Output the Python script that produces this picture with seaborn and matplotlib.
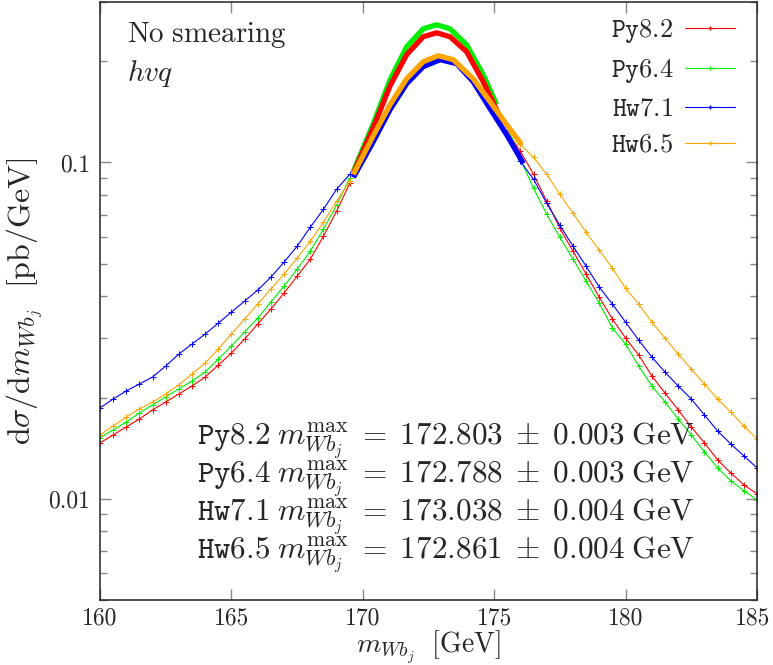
import matplotlib
matplotlib.use("Agg")
import matplotlib.pyplot as plt
import matplotlib.transforms as mtransforms
import seaborn as sns
import pandas as pd
from matplotlib.lines import Line2D
from matplotlib.ticker import FixedLocator, FixedFormatter, NullFormatter

# ---------------- data ----------------
generators = ["Py8.2", "Py6.4", "Hw7.1", "Hw6.5"]
colors = ["#ff0000", "#00ee00", "#0000ff", "#ffa500"]
peak_values = ["172.803", "172.788", "173.038", "172.861"]
peak_errors = ["0.003", "0.003", "0.004", "0.004"]

mass_left = [160.0, 160.5, 161.0, 161.5, 162.0, 162.5, 163.0, 163.5, 164.0, 164.5,
             165.0, 165.5, 166.0, 166.5, 167.0, 167.5, 168.0, 168.5, 169.0, 169.5]
py82_left = [0.01466, 0.01548, 0.01635, 0.01727, 0.01837, 0.01940, 0.02049, 0.02164, 0.02301, 0.02497,
             0.02711, 0.02983, 0.03306, 0.03662, 0.04087, 0.04590, 0.05155, 0.06031, 0.07154, 0.08663]
py64_left = [0.01517, 0.01602, 0.01692, 0.01799, 0.01901, 0.02008, 0.02121, 0.02239, 0.02381, 0.02602,
             0.02844, 0.03131, 0.03444, 0.03842, 0.04285, 0.04814, 0.05444, 0.06327, 0.07455, 0.08965]
hw71_left = [0.01862, 0.01980, 0.02092, 0.02194, 0.02301, 0.02481, 0.02693, 0.02884, 0.03088, 0.03329,
             0.03588, 0.03869, 0.04171, 0.04558, 0.05050, 0.05633, 0.06414, 0.07254, 0.08317, 0.09213]
hw65_left = [0.01548, 0.01646, 0.01751, 0.01849, 0.01940, 0.02049, 0.02180, 0.02349, 0.02533, 0.02787,
             0.03088, 0.03420, 0.03789, 0.04200, 0.04653, 0.05190, 0.05829, 0.06637, 0.07662, 0.08781]

mass_right_py = [175.5, 176.0, 176.5, 177.0, 177.5, 178.0, 178.5, 179.0, 179.5, 180.0,
                 180.5, 181.0, 181.5, 182.0, 182.5, 183.0, 183.5, 184.0, 184.5, 185.0]
py82_right = [0.1236, 0.1078, 0.09213, 0.07662, 0.06371, 0.05444, 0.04653, 0.03975, 0.03420, 0.03003,
              0.02675, 0.02317, 0.02063, 0.01837, 0.01635, 0.01466, 0.01305, 0.01194, 0.01100, 0.01034]
py64_right = [0.1279, 0.1021, 0.08372, 0.07012, 0.05990, 0.05155, 0.04435, 0.03815, 0.03216, 0.02884,
              0.02481, 0.02164, 0.01940, 0.01727, 0.01548, 0.01378, 0.01236, 0.01131, 0.01056, 0.00993]
mass_right_hw = [176.0, 176.5, 177.0, 177.5, 178.0, 178.5, 179.0, 179.5, 180.0,
                 180.5, 181.0, 181.5, 182.0, 182.5, 183.0, 183.5, 184.0, 184.5, 185.0]
hw71_right = [0.1007, 0.08905, 0.07557, 0.06503, 0.05633, 0.04914, 0.04257, 0.03789, 0.03351,
              0.02962, 0.02638, 0.02381, 0.02164, 0.01980, 0.01775, 0.01591, 0.01456, 0.01341, 0.01236]
hw65_right = [0.1131, 0.1035, 0.09213, 0.08035, 0.07060, 0.06199, 0.05481, 0.04848, 0.04228,
              0.03789, 0.03351, 0.03003, 0.02693, 0.02430, 0.02194, 0.01980, 0.01812, 0.01646, 0.01507]

# fitted curves around the peak
py82_fit_m = [169.64, 170.40, 171.04, 171.67, 172.30, 172.81, 173.32, 173.95, 174.58, 175.34]
py82_fit_v = [0.0928, 0.1270, 0.1692, 0.2092, 0.2365, 0.2430, 0.2365, 0.2135, 0.1739, 0.1305]
py64_fit_m = [169.64, 170.40, 171.04, 171.67, 172.30, 172.81, 173.32, 173.95, 174.58, 175.09]
py64_fit_v = [0.0940, 0.1305, 0.1763, 0.2209, 0.2497, 0.2567, 0.2497, 0.2239, 0.1824, 0.1486]
hw71_fit_m = [169.64, 170.40, 171.04, 171.67, 172.30, 172.94, 173.57, 174.20, 174.84, 175.47, 176.11]
hw71_fit_v = [0.0903, 0.1154, 0.1437, 0.1715, 0.1927, 0.2021, 0.1967, 0.1739, 0.1446, 0.1211, 0.0993]
hw65_fit_m = [169.64, 170.40, 171.04, 171.67, 172.30, 172.87, 173.44, 174.20, 174.84, 175.47, 176.04]
hw65_fit_v = [0.0921, 0.1202, 0.1486, 0.1775, 0.1994, 0.2077, 0.2021, 0.1775, 0.1517, 0.1297, 0.1131]

x_ticks = [160, 165, 170, 175, 180, 185]
y_ticks = [0.01, 0.1]
y_tick_labels = ["0.01", "0.1"]

# ---------------- plotting ----------------
sns.set_style("ticks")
plt.rcParams["font.family"] = ["cmr10", "DejaVu Serif"]
plt.rcParams["mathtext.fontset"] = "cm"
plt.rcParams["axes.formatter.use_mathtext"] = True

fig = plt.figure(figsize=(7.73, 6.65), dpi=100)
ax = fig.add_axes([100 / 773, 65 / 665, 657 / 773, 598 / 665])
ax.set_yscale("log")

data_left = [py82_left, py64_left, hw71_left, hw65_left]
data_right = [(mass_right_py, py82_right), (mass_right_py, py64_right),
              (mass_right_hw, hw71_right), (mass_right_hw, hw65_right)]
fits = [(py82_fit_m, py82_fit_v), (py64_fit_m, py64_fit_v),
        (hw71_fit_m, hw71_fit_v), (hw65_fit_m, hw65_fit_v)]

for name, col, yl, (mr, yr) in zip(generators, colors, data_left, data_right):
    for xs, ys in ((mass_left, yl), (mr, yr)):
        df = pd.DataFrame({"m": xs, "v": ys})
        sns.lineplot(data=df, x="m", y="v", ax=ax, color=col, lw=0.8,
                     marker="+", markersize=5, markeredgewidth=0.7,
                     markeredgecolor=col, markerfacecolor=col,
                     sort=False, legend=False, zorder=2)

# thick fit curves: draw order green, red, blue, orange
for idx in [1, 0, 2, 3]:
    fm, fv = fits[idx]
    df = pd.DataFrame({"m": fm, "v": fv})
    sns.lineplot(data=df, x="m", y="v", ax=ax, color=colors[idx], lw=3.8,
                 sort=False, legend=False, zorder=3,
                 solid_capstyle="butt", solid_joinstyle="round")

ax.set_xlim(160, 185)
ax.set_ylim(0.005, 0.3)

ax.xaxis.set_major_locator(FixedLocator(x_ticks))
ax.set_xticklabels([str(t) for t in x_ticks])
ax.yaxis.set_major_locator(FixedLocator(y_ticks))
ax.yaxis.set_major_formatter(FixedFormatter(y_tick_labels))
minor = [k * 10.0 ** e for e in (-3, -2, -1) for k in range(2, 10)]
ax.yaxis.set_minor_locator(FixedLocator(minor))
ax.yaxis.set_minor_formatter(NullFormatter())
ax.xaxis.set_minor_locator(FixedLocator([]))

ax.tick_params(axis="both", which="both", direction="in", top=True, right=True,
               color="#888888", labelsize=17, pad=7)
ax.tick_params(axis="x", which="major", pad=5)
ax.tick_params(axis="both", which="major", length=8, width=1)
ax.tick_params(axis="y", which="minor", length=5, width=1)
for sp in ax.spines.values():
    sp.set_visible(True)
    sp.set_color("#222222")
    sp.set_linewidth(1.1)

# keep the last x tick label inside the canvas
last_label = ax.xaxis.get_major_ticks()[-1].label1
last_label.set_transform(last_label.get_transform() +
                         mtransforms.ScaledTranslation(-4 / 100, 0, fig.dpi_scale_trans))

ax.set_xlabel(r"$m_{Wb_j}\ \ [\mathrm{GeV}]$", fontsize=20)
ax.xaxis.set_label_coords(0.5, -0.047)
ax.set_ylabel(r"$\mathrm{d}\sigma/\mathrm{d}m_{Wb_j}\ \ [\mathrm{pb/GeV}]$", fontsize=23)
ax.yaxis.set_label_coords(-0.083, 0.5)

ax.text(0.041, 0.945, r"$\mathrm{No\ smearing}$", transform=ax.transAxes,
        fontsize=21, ha="left", va="center")
ax.text(0.041, 0.88, r"$hvq$", transform=ax.transAxes,
        fontsize=21, ha="left", va="center")

row_y = [0.2659, 0.2023, 0.1388, 0.0753]
for name, pv, pe, yy in zip(generators, peak_values, peak_errors, row_y):
    ax.text(0.148, yy,
            r"$\mathtt{" + name + r"}\;m_{Wb_j}^{\mathrm{max}}\;=\;" + pv + r"\;\pm\;" + pe + r"\;\mathrm{GeV}$",
            transform=ax.transAxes, fontsize=22.5, ha="left", va="center")

handles = [Line2D([0], [0], color=c, lw=0.8, marker="+", markersize=3) for c in colors]
leg = ax.legend(handles, [r"$\mathtt{" + g + "}$" for g in generators],
                loc="upper right", frameon=False, markerfirst=False,
                fontsize=19, handlelength=1.9, handletextpad=0.45,
                labelspacing=0.46, borderaxespad=0.3, bbox_to_anchor=(0.995, 1.006))

fig.savefig("out.png", dpi=100)
